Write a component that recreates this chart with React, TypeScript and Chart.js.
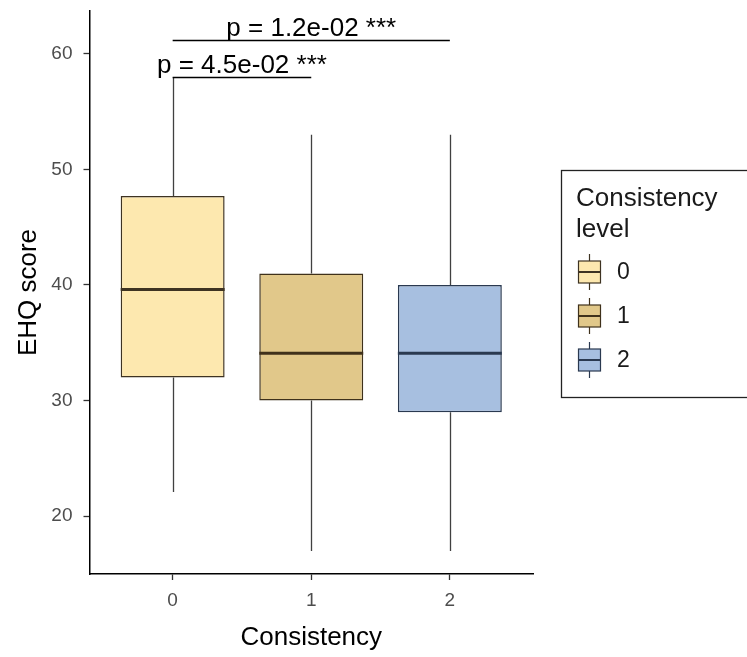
import React, { useEffect, useRef } from "react";
import { Chart, registerables } from "chart.js";

Chart.register(...registerables);

const categories = ["0", "1", "2"];
const xPositions = [0, 1, 2];
const whiskerLow = [22.1, 17, 17];
const q1 = [32, 30, 29];
const median = [39.6, 34.1, 34.1];
const q3 = [47.7, 41, 40];
const whiskerHigh = [58, 53, 53];
const fillColors = ["#FDE8AF", "#E1C88A", "#A7BFE0"];
const lineColors = ["#3E3322", "#3F311B", "#2A3950"];
const yTicks = [20, 30, 40, 50, 60];
const compFrom = [0, 0];
const compTo = [1, 2];
const compY = [58, 61.2];
const compLabels = ["p = 4.5e-02 ***", "p = 1.2e-02 ***"];
const legendTitle = ["Consistency", "level"];
const xTitle = "Consistency";
const yTitle = "EHQ score";

const FONT = "'Liberation Sans', Arial, sans-serif";

const boxPlugin = {
  id: "boxParts",
  beforeDatasetsDraw(chart: any) {
    const { ctx, scales } = chart;
    const xs = scales.x;
    const ys = scales.y;
    ctx.save();
    ctx.strokeStyle = "#404040";
    ctx.lineWidth = 1.3;
    xPositions.forEach((xv, i) => {
      const px = Math.round(xs.getPixelForValue(xv)) + 0.5;
      ctx.beginPath();
      ctx.moveTo(px, ys.getPixelForValue(whiskerHigh[i]));
      ctx.lineTo(px, ys.getPixelForValue(q3[i]));
      ctx.moveTo(px, ys.getPixelForValue(q1[i]));
      ctx.lineTo(px, ys.getPixelForValue(whiskerLow[i]));
      ctx.stroke();
    });
    ctx.restore();
  },
  afterDatasetsDraw(chart: any) {
    const { ctx, scales } = chart;
    const ys = scales.y;
    const meta = chart.getDatasetMeta(0);
    ctx.save();
    xPositions.forEach((_, i) => {
      const bar = meta.data[i];
      const half = bar.width / 2;
      const py = ys.getPixelForValue(median[i]);
      ctx.strokeStyle = lineColors[i];
      ctx.lineWidth = 3;
      ctx.beginPath();
      ctx.moveTo(bar.x - half, py);
      ctx.lineTo(bar.x + half, py);
      ctx.stroke();
    });
    ctx.restore();
  },
  afterDraw(chart: any) {
    const { ctx, scales } = chart;
    const xs = scales.x;
    const ys = scales.y;
    ctx.save();
    // significance brackets
    ctx.strokeStyle = "#000";
    ctx.lineWidth = 1.3;
    ctx.fillStyle = "#000";
    ctx.font = `26px ${FONT}`;
    ctx.textAlign = "center";
    ctx.textBaseline = "alphabetic";
    compFrom.forEach((f, i) => {
      const x1 = xs.getPixelForValue(f);
      const x2 = xs.getPixelForValue(compTo[i]);
      const py = Math.round(ys.getPixelForValue(compY[i])) + 0.5;
      ctx.beginPath();
      ctx.moveTo(x1, py);
      ctx.lineTo(x2, py);
      ctx.stroke();
      ctx.fillText(compLabels[i], (x1 + x2) / 2, py - 5);
    });

    // legend
    const lx = 561.5;
    const ly = 170.5;
    ctx.strokeStyle = "#222";
    ctx.lineWidth = 1.3;
    ctx.strokeRect(lx, ly, 200, 227);
    ctx.textAlign = "left";
    ctx.fillStyle = "#1a1a1a";
    ctx.font = `26px ${FONT}`;
    ctx.fillText(legendTitle[0], 576, 206);
    ctx.fillText(legendTitle[1], 576, 237);
    const keyY = [272, 316, 360];
    categories.forEach((c, i) => {
      const cx = 589.5;
      const cy = keyY[i];
      ctx.strokeStyle = lineColors[i];
      ctx.lineWidth = 1.2;
      ctx.beginPath();
      ctx.moveTo(cx, cy - 18);
      ctx.lineTo(cx, cy + 18);
      ctx.stroke();
      ctx.fillStyle = fillColors[i];
      ctx.fillRect(cx - 11, cy - 11, 22, 22);
      ctx.strokeRect(cx - 11, cy - 11, 22, 22);
      ctx.lineWidth = 2;
      ctx.beginPath();
      ctx.moveTo(cx - 11, cy);
      ctx.lineTo(cx + 11, cy);
      ctx.stroke();
      ctx.fillStyle = "#1a1a1a";
      ctx.font = `23px ${FONT}`;
      ctx.textBaseline = "middle";
      ctx.fillText(c, 617, cy + 1);
      ctx.textBaseline = "alphabetic";
    });
    ctx.restore();
  },
};

export default function App() {
  const ref = useRef<HTMLCanvasElement | null>(null);
  useEffect(() => {
    if (!ref.current) return;
    Chart.defaults.font.family = FONT;
    const chart = new Chart(ref.current, {
      type: "bar",
      data: {
        datasets: [
          {
            data: xPositions.map((x, i) => ({ x, y: [q1[i], q3[i]] })) as any,
            backgroundColor: fillColors,
            borderColor: lineColors,
            borderWidth: 1.5,
            borderSkipped: false,
            barPercentage: 0.75,
            categoryPercentage: 1,
          },
        ],
      },
      options: {
        animation: false,
        responsive: false,
        devicePixelRatio: 1,
        layout: { padding: { top: 11, right: 214, left: 0, bottom: 0 } },
        plugins: { legend: { display: false }, tooltip: { enabled: false } },
        scales: {
          x: {
            type: "linear",
            min: -0.6,
            max: 2.6,
            offset: false,
            afterBuildTicks: (s: any) => {
              s.ticks = xPositions.map((v) => ({ value: v }));
            },
            afterFit: (s: any) => {
              s.height = 83;
              s.paddingLeft = 0;
              s.paddingRight = 0;
            },
            ticks: {
              callback: (v: any) => categories[xPositions.indexOf(Number(v))] ?? "",
              color: "#4d4d4d",
              font: { size: 19 },
              padding: 9,
              maxRotation: 0,
            },
            grid: { drawOnChartArea: false, offset: false, tickLength: 6, tickColor: "#333", tickWidth: 1.3 },
            border: { color: "#000", width: 1.5 },
            title: {
              display: true,
              text: xTitle,
              color: "#000",
              font: { size: 26 },
              padding: { top: 0, bottom: 4 },
            },
          },
          y: {
            min: 15,
            max: 63.7,
            afterBuildTicks: (s: any) => {
              s.ticks = yTicks.map((v) => ({ value: v }));
            },
            afterFit: (s: any) => {
              s.width = 89.5;
              s.paddingTop = 0;
              s.paddingBottom = 0;
            },
            ticks: { color: "#4d4d4d", font: { size: 19 }, padding: 11 },
            grid: { drawOnChartArea: false, tickLength: 6, tickColor: "#333", tickWidth: 1.3 },
            border: { color: "#000", width: 1.5 },
            title: {
              display: true,
              text: yTitle,
              color: "#000",
              font: { size: 26 },
              padding: { top: 13, bottom: 0 },
            },
          },
        },
      },
      plugins: [boxPlugin],
    } as any);
    return () => chart.destroy();
  }, []);
  return (
    <div style={{ position: "absolute", left: 0, top: 0, width: 747, height: 657, background: "#fff" }}>
      <canvas ref={ref} width={747} height={657} style={{ width: 747, height: 657, display: "block" }} />
    </div>
  );
}
